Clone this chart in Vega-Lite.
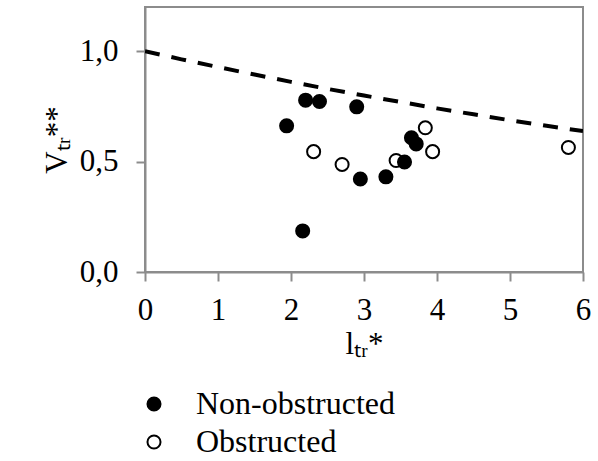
{
  "$schema": "https://vega.github.io/schema/vega-lite/v6.json",
  "width": 438,
  "height": 265,
  "autosize": {"type": "none"},
  "padding": {"left": 145, "top": 7, "right": 15, "bottom": 189},
  "background": "white",
  "config": {
    "view": {"stroke": "#8c8c8c", "strokeWidth": 2},
    "font": "Liberation Serif",
    "axis": {
      "grid": false,
      "domainColor": "#8c8c8c",
      "domainWidth": 2,
      "tickColor": "#8c8c8c",
      "tickWidth": 2,
      "tickSize": 9,
      "labelFont": "Liberation Serif",
      "labelFontSize": 31,
      "labelColor": "black",
      "titleFont": "Liberation Serif",
      "titleFontSize": 31,
      "titleFontWeight": "normal",
      "titleColor": "black"
    }
  },
  "datasets": {
    "pts": [
      {"l": 2.31, "v": 0.545, "type": "Obstructed"},
      {"l": 2.70, "v": 0.487, "type": "Obstructed"},
      {"l": 3.44, "v": 0.505, "type": "Obstructed"},
      {"l": 3.84, "v": 0.653, "type": "Obstructed"},
      {"l": 3.94, "v": 0.545, "type": "Obstructed"},
      {"l": 5.80, "v": 0.564, "type": "Obstructed"},
      {"l": 1.94, "v": 0.662, "type": "Non-obstructed"},
      {"l": 2.16, "v": 0.186, "type": "Non-obstructed"},
      {"l": 2.20, "v": 0.778, "type": "Non-obstructed"},
      {"l": 2.39, "v": 0.772, "type": "Non-obstructed"},
      {"l": 2.90, "v": 0.748, "type": "Non-obstructed"},
      {"l": 2.95, "v": 0.421, "type": "Non-obstructed"},
      {"l": 3.30, "v": 0.431, "type": "Non-obstructed"},
      {"l": 3.555, "v": 0.498, "type": "Non-obstructed"},
      {"l": 3.65, "v": 0.608, "type": "Non-obstructed"},
      {"l": 3.715, "v": 0.580, "type": "Non-obstructed"}
    ],
    "curve": [
      {"l": 0.0, "v": 1.0},
      {"l": 0.5, "v": 0.963},
      {"l": 1.0, "v": 0.928},
      {"l": 1.5, "v": 0.894},
      {"l": 2.0, "v": 0.861},
      {"l": 2.5, "v": 0.829},
      {"l": 3.0, "v": 0.799},
      {"l": 3.5, "v": 0.770},
      {"l": 4.0, "v": 0.741},
      {"l": 4.5, "v": 0.714},
      {"l": 5.0, "v": 0.687},
      {"l": 5.5, "v": 0.662},
      {"l": 6.0, "v": 0.638}
    ]
  },
  "layer": [
    {
      "data": {"name": "curve"},
      "mark": {"type": "line", "color": "black", "strokeWidth": 4, "strokeDash": [15, 12], "clip": true},
      "encoding": {
        "x": {"field": "l", "type": "quantitative", "scale": {"domain": [0, 6], "nice": false},
          "axis": {"values": [0, 1, 2, 3, 4, 5, 6], "format": "d", "labelFlush": false, "title": "lₜᵣ*", "labelPadding": 14, "titlePadding": 4}},
        "y": {"field": "v", "type": "quantitative", "scale": {"domain": [0, 1.2], "nice": false},
          "axis": {"values": [0, 0.5, 1.0], "labelExpr": "replace(format(datum.value, '.1f'), '.', ',')", "title": "Vₜᵣ**", "labelPadding": 18, "titlePadding": 6}}
      }
    },
    {
      "data": {"name": "pts"},
      "mark": {"type": "point", "shape": "circle", "size": 170, "stroke": "black", "strokeWidth": 2, "opacity": 1, "filled": false},
      "encoding": {
        "x": {"field": "l", "type": "quantitative"},
        "y": {"field": "v", "type": "quantitative"},
        "fill": {
          "field": "type", "type": "nominal",
          "scale": {"domain": ["Non-obstructed", "Obstructed"], "range": ["black", "white"]},
          "legend": {
            "title": null,
            "orient": "none",
            "legendX": -7,
            "legendY": 381,
            "direction": "vertical",
            "symbolType": "circle",
            "symbolSize": 170,
            "symbolStrokeColor": "black",
            "symbolStrokeWidth": 2,
            "symbolOpacity": 1,
            "labelFont": "Liberation Serif",
            "labelFontSize": 32,
            "labelColor": "black",
            "labelOffset": 26,
            "rowPadding": 6,
            "labelLimit": 400
          }
        }
      }
    }
  ]
}
